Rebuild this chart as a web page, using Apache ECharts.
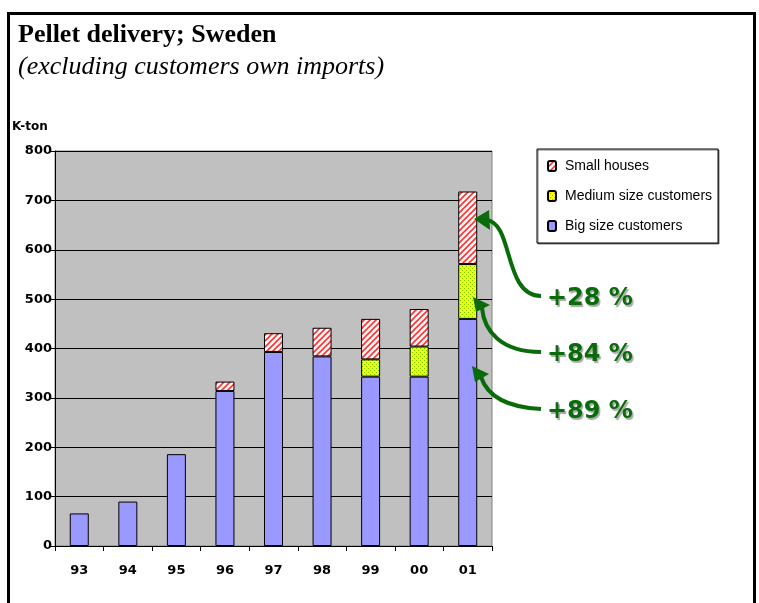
<!DOCTYPE html>
<html>
<head>
<meta charset="utf-8">
<script src="https://cdn.jsdelivr.net/npm/echarts@6/dist/echarts.min.js"></script>
<style>
	html, body { margin: 0; padding: 0; background: #fff; }
	#chart { width: 759px; height: 603px; }
</style>
</head>
<body>
<div id="chart"></div>
<script>
	// 数据
	const years = ['93', '94', '95', '96', '97', '98', '99', '00', '01'];
	const bigSize = [66, 90, 186, 314, 393, 384, 343, 343, 460];
	const mediumSize = [0, 0, 0, 0, 0, 0, 35, 61, 111];
	const smallHouses = [0, 0, 0, 19, 38, 58, 82, 76, 147];
	const yTicks = [0, 100, 200, 300, 400, 500, 600, 700, 800];
	const growthLabels = ['+28 %', '+84 %', '+89 %'];

	// 斜线填充
	function hatchPattern() {
		let c = document.createElement('canvas');
		c.width = 6; c.height = 6;
		let ctx = c.getContext('2d');
		ctx.fillStyle = '#fff';
		ctx.fillRect(0, 0, 6, 6);
		ctx.strokeStyle = '#ff3030';
		ctx.lineWidth = 1.6;
		ctx.beginPath();
		ctx.moveTo(-1, 7); ctx.lineTo(7, -1);
		ctx.moveTo(-4, 4); ctx.lineTo(4, -4);
		ctx.moveTo(2, 10); ctx.lineTo(10, 2);
		ctx.stroke();
		return { image: c, repeat: 'repeat' };
	}
	// 点状填充
	function dotPattern() {
		let c = document.createElement('canvas');
		c.width = 4; c.height = 4;
		let ctx = c.getContext('2d');
		ctx.fillStyle = '#ffff00';
		ctx.fillRect(0, 0, 4, 4);
		ctx.fillStyle = '#66cc00';
		ctx.fillRect(0, 0, 1, 1);
		ctx.fillRect(2, 2, 1, 1);
		return { image: c, repeat: 'repeat' };
	}

	const labelFont = 'DejaVu Sans';
	const green = '#0a6b0a';

	let myChart = echarts.init(document.getElementById('chart'));

	// 箭头（注释）
	function arrow(p0, c1, c2, p3, head) {
		return [{
			type: 'bezierCurve',
			shape: { x1: p0[0], y1: p0[1], cpx1: c1[0], cpy1: c1[1], cpx2: c2[0], cpy2: c2[1], x2: p3[0], y2: p3[1] },
			style: { stroke: green, lineWidth: 4, fill: null },
			z: 100
		}, {
			type: 'polygon',
			shape: { points: head },
			style: { fill: green },
			z: 100
		}];
	}

	let graphics = [{
		type: 'rect',
		shape: { x: 8.5, y: 13.5, width: 746, height: 620 },
		style: { stroke: '#000', lineWidth: 3, fill: null },
		silent: true
	}, {
		type: 'text',
		left: 12, top: 121,
		style: { text: 'K-ton', font: 'bold 12px "DejaVu Sans"', fill: '#000', letterSpacing: -0.5 }
	}];
	graphics = graphics.concat(
		arrow([541, 296], [503, 296], [514, 222], [486, 220], [[474, 219], [489, 210], [490, 230]]),
		arrow([541, 352], [500, 352], [484, 330], [482, 308], [[473, 297], [476, 312], [490, 305]]),
		arrow([541, 409], [500, 407], [486, 392], [481, 377], [[472, 366], [475, 382], [489, 374]])
	);
	const labelY = [300, 356, 413];
	growthLabels.forEach((t, i) => {
		graphics.push({
			type: 'text',
			left: 547, top: labelY[i] - 13,
			style: {
				text: t, font: 'bold 24px "DejaVu Sans"', fill: green, letterSpacing: -2,
				textShadowColor: 'rgba(0,0,0,0.35)', textShadowOffsetX: 1.5, textShadowOffsetY: 1.5, textShadowBlur: 1
			},
			z: 100
		});
	});

	let options = {
		animation: false,
		title: {
			text: 'Pellet delivery; Sweden',
			subtext: '(excluding customers own imports)',
			left: 13, top: 17,
			itemGap: 6,
			textStyle: { fontFamily: 'Liberation Serif', fontWeight: 'bold', fontSize: 26, color: '#000' },
			subtextStyle: { fontFamily: 'Liberation Serif', fontStyle: 'italic', fontSize: 26, color: '#000' }
		},
		legend: {
			orient: 'vertical',
			left: 537, top: 149,
			padding: [10, 6, 10, 10],
			itemGap: 16,
			itemWidth: 8, itemHeight: 10,
			backgroundColor: '#fff',
			borderColor: '#000', borderWidth: 1,
			shadowColor: 'rgba(0,0,0,0.5)', shadowOffsetX: 1, shadowOffsetY: 1,
			textStyle: { fontFamily: 'Liberation Sans', fontSize: 14, color: '#000', letterSpacing: 0, padding: [0, 0, 0, 4] },
			data: ['Small houses', 'Medium size customers', 'Big size customers']
		},
		grid: {
			left: 55, right: 267, top: 151, bottom: 57,
			show: true,
			backgroundColor: '#c0c0c0',
			borderColor: '#808080', borderWidth: 1
		},
		xAxis: {
			type: 'category',
			data: years,
			axisLine: { lineStyle: { color: '#000', width: 1 } },
			axisTick: { show: true, length: 5, lineStyle: { color: '#000' } },
			axisLabel: { fontFamily: labelFont, fontWeight: 'bold', fontSize: 13, color: '#000', margin: 18 }
		},
		yAxis: {
			type: 'value',
			min: yTicks[0], max: yTicks[yTicks.length - 1], interval: 100,
			axisLine: { show: true, lineStyle: { color: '#000', width: 1 } },
			axisTick: { show: true, length: 4, lineStyle: { color: '#000' } },
			axisLabel: { fontFamily: labelFont, fontWeight: 'bold', fontSize: 13, color: '#000', margin: 3 },
			splitLine: { lineStyle: { color: '#000', width: 1 } }
		},
		graphic: graphics,
		series: [{
			name: 'Big size customers',
			type: 'bar', stack: 'total',
			barWidth: 19,
			data: bigSize,
			itemStyle: { color: '#9999ff', borderColor: '#000', borderWidth: 1 }
		}, {
			name: 'Medium size customers',
			type: 'bar', stack: 'total',
			barWidth: 19,
			data: mediumSize.map(v => v || null),
			itemStyle: { color: dotPattern(), borderColor: '#000', borderWidth: 1 }
		}, {
			name: 'Small houses',
			type: 'bar', stack: 'total',
			barWidth: 19,
			data: smallHouses.map(v => v || null),
			itemStyle: { color: hatchPattern(), borderColor: '#000', borderWidth: 1 }
		}]
	};

	// 绘制图表
	myChart.setOption(options);
</script>
</body>
</html>
